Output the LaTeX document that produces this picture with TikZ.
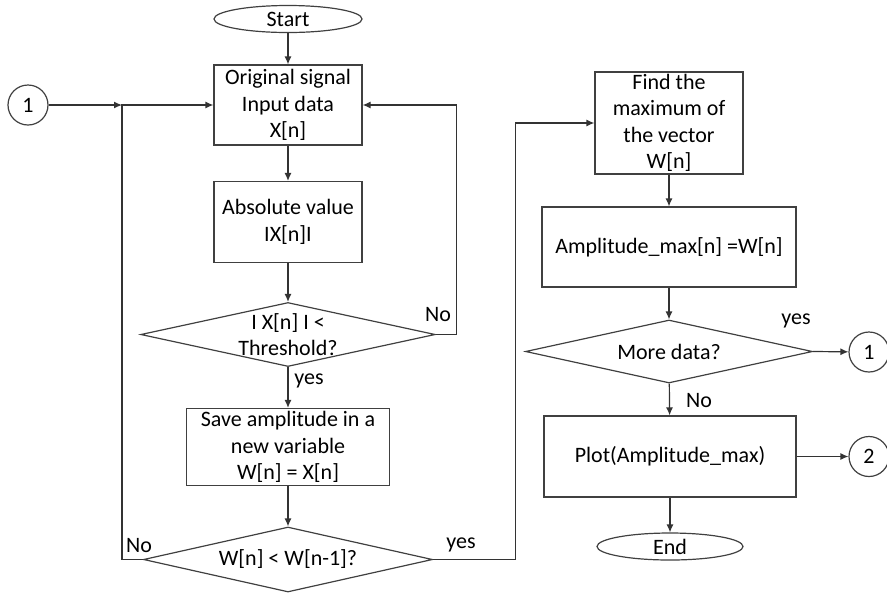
\documentclass[tikz,border=0pt]{standalone}
\usepackage{fontspec}
\setmainfont{Carlito}
\usetikzlibrary{shapes.geometric,arrows.meta}
\begin{document}
\begin{tikzpicture}[
   x=0.5pt, y=-0.5pt,
   every node/.style={font=\fontsize{11}{13.2}\selectfont},
   proc/.style={rectangle, draw=black!75, line width=0.6pt, align=center, inner sep=1pt},
   term/.style={ellipse, draw=black!75, line width=0.6pt, minimum width=74pt, minimum height=13.5pt, inner sep=0pt},
   decide/.style={diamond, draw=black!75, line width=0.6pt, align=center, inner sep=0pt, shape aspect=4.6},
   conn/.style={circle, draw=black!75, line width=0.6pt, minimum size=20pt, inner sep=0pt},
   arrow/.style={-{Latex[length=4pt,width=3.5pt]}, draw=black!80, line width=0.6pt},
   line/.style={-, draw=black!80, line width=0.6pt}
]
\useasboundingbox (0,0) rectangle (887,596);

% Left column
\node[term] (start) at (288,19) {Start};
\node[proc, minimum width=74pt, minimum height=40pt] (orig) at (288,105) {Original signal\\Input data\\X[n]};
\node[proc, minimum width=74pt, minimum height=40.5pt] (absval) at (288,222) {Absolute value\\IX[n]I};
\node[decide, minimum width=144.5pt, minimum height=31.5pt] (thr) at (288,334.5) {I X[n] I <\\Threshold?};
\node[proc, minimum width=101.5pt, minimum height=38.5pt] (save) at (288,447) {Save amplitude in a\\new variable\\W[n] = X[n]};
\node[decide, minimum width=144.5pt, minimum height=32.5pt] (cmp) at (288,559.5) {W[n] < W[n-1]?};

% Connector 1 on the left
\node[conn] (c1) at (28,105) {1};
\coordinate (jn) at (122,105);

% Right column
\node[proc, minimum width=74pt, minimum height=51pt] (find) at (669,123) {Find the\\maximum of\\the vector\\W[n]};
\node[proc, minimum width=127pt, minimum height=40pt] (amp) at (669,247) {Amplitude\_max[n] =W[n]};
\node[decide, minimum width=143.5pt, minimum height=31.5pt] (more) at (669,351.5) {More data?};
\node[proc, minimum width=126pt, minimum height=40.5pt] (plot) at (670,456.5) {Plot(Amplitude\_max)};
\node[term, minimum width=73pt] (end) at (670,546.5) {End};
\node[conn] (c1r) at (869,352) {1};
\node[conn] (c2) at (869,456.5) {2};

% Labels
\node (no1) at (438,315) {No};
\node (yes1) at (309,381) {yes};
\node (no2) at (139,545) {No};
\node (yes2) at (461,545) {yes};
\node (yes3) at (796,321) {yes};
\node (no3) at (699,401) {No};

% Arrows
\draw[arrow] (start) -- (orig);
\draw[arrow] (orig) -- (absval);
\draw[arrow] (absval) -- (thr);
\draw[arrow] (thr.east) -- ++(21,0) |- (orig.east);
\draw[arrow] (thr) -- (save);
\draw[arrow] (save) -- (cmp);
\draw[arrow] (c1) -- (jn);
\draw[arrow] (cmp.west) -| (jn) -- (orig.west);
\draw[arrow] (cmp.east) -- ++(82,0) |- (find.west);
\draw[arrow] (find) -- (amp);
\draw[arrow] (amp) -- (more);
\draw[arrow] (more.east) -- (c1r);
\draw[arrow] (more) -- (plot);
\draw[arrow] (plot.east) -- (c2);
\draw[arrow] (plot) -- (end);

\end{tikzpicture}
\end{document}
